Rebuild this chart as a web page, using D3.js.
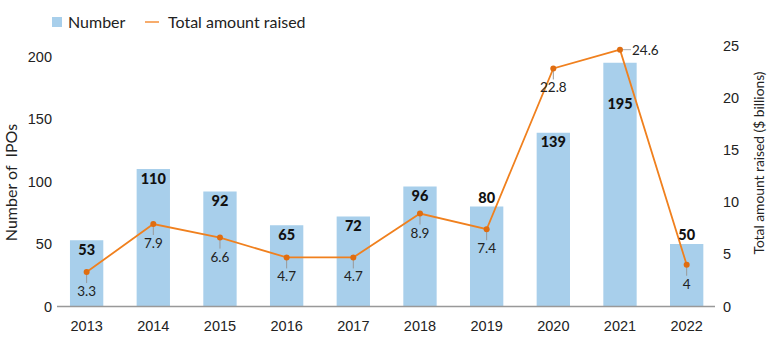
<!DOCTYPE html>
<html><head><meta charset="utf-8">
<script src="https://cdn.jsdelivr.net/npm/d3@7"></script>
<style>body{margin:0;background:#fff}svg{display:block;font-family:Lato,"Open Sans",sans-serif}</style>
</head><body><svg id="c" width="767" height="350"></svg>
<script>
const years = ["2013","2014","2015","2016","2017","2018","2019","2020","2021","2022"];
const numberIPOs = [53,110,92,65,72,96,80,139,195,50];
const amountRaised = [3.3,7.9,6.6,4.7,4.7,8.9,7.4,22.8,24.6,4];
const leftTicks = [0,50,100,150,200];
const rightTicks = [0,5,10,15,20,25];

const svg = d3.select("#c");
const x = d3.scaleBand().domain(years).range([53.3,720]).paddingInner(0.5).paddingOuter(0.25);
const yL = d3.scaleLinear().domain([0,200]).range([306.5,56.5]);
const yR = d3.scaleLinear().domain([0,25]).range([306.5,45.5]);
const txt = "#222";

// bars
svg.append("g").selectAll("rect").data(years).join("rect")
  .attr("x",d=>x(d)).attr("width",x.bandwidth())
  .attr("y",(d,i)=>yL(numberIPOs[i])).attr("height",(d,i)=>yL(0)-yL(numberIPOs[i]))
  .attr("fill","#a8cfeb");

// baseline axis
const xAxis = svg.append("g").attr("transform","translate(0,306.5)")
  .call(d3.axisBottom(x).tickSize(0).tickPadding(14));
xAxis.select(".domain").attr("stroke","#999").attr("stroke-width",1.5).attr("d","M57,0H715");
xAxis.selectAll("text").attr("font-size",14.5).attr("fill",txt);

// left axis
const la = svg.append("g").attr("transform","translate(52,0)")
  .call(d3.axisLeft(yL).tickValues(leftTicks).tickSize(0).tickPadding(0));
la.select(".domain").remove();
la.selectAll("text").attr("font-size",14.5).attr("fill",txt);

// right axis
const ra = svg.append("g").attr("transform","translate(723,0)")
  .call(d3.axisRight(yR).tickValues(rightTicks).tickSize(0).tickPadding(0));
ra.select(".domain").remove();
ra.selectAll("text").attr("font-size",14.5).attr("fill",txt);

// axis titles
svg.append("text").attr("transform","translate(17,182.5) rotate(-90)").attr("text-anchor","middle")
  .attr("font-size",16).attr("fill",txt).style("white-space","pre").text("Number of  IPOs");
svg.append("text").attr("transform","translate(764,163) rotate(-90)").attr("text-anchor","middle")
  .attr("font-size",13.8).attr("fill",txt).text("Total amount raised ($ billions)");

// line
const cx = d=>x(d)+x.bandwidth()/2;
const pts = amountRaised.map((v,i)=>[cx(years[i]), yR(v)]);
svg.append("path").datum(pts).attr("d",d3.line()).attr("fill","none")
  .attr("stroke","#f0801e").attr("stroke-width",1.8);

// does the line pass through the box [x0,x1]x[y0,y1]?
function lineHits(x0,x1,y0,y1){
  for (let k=0;k<pts.length-1;k++){
    const [ax,ay]=pts[k],[bx,by]=pts[k+1];
    const lo=Math.max(x0,Math.min(ax,bx)), hi=Math.min(x1,Math.max(ax,bx));
    if (lo>hi) continue;
    const ya=ay+(by-ay)*(lo-ax)/(bx-ax), yb=ay+(by-ay)*(hi-ax)/(bx-ax);
    if (Math.max(ya,yb)>=y0 && Math.min(ya,yb)<=y1) return true;
  }
  return false;
}

// bar labels
years.forEach((yr,i)=>{
  const top = yL(numberIPOs[i]);
  const px = cx(yr);
  const gap = yR(amountRaised[i]) - (top+9);
  const inside = !(gap >= 0 && gap < 15);
  let c = inside ? top+9.5 : top-9;
  if (inside) {
    const hw = String(numberIPOs[i]).length*4.5;
    while (lineHits(px-hw, px+hw, c-6-5, c+6+5) && c < 290) c += 1;
  }
  svg.append("text").attr("x",px).attr("y", c+5)
    .attr("text-anchor","middle").attr("font-size",14.5).attr("font-weight",900)
    .attr("fill","#111").text(numberIPOs[i]);
});

// line labels with leaders
const peak = d3.max(amountRaised);
amountRaised.forEach((v,i)=>{
  const [px,py] = pts[i];
  if (v === peak) {
    svg.append("line").attr("x1",px).attr("x2",px+11).attr("y1",py).attr("y2",py).attr("stroke","#aaa");
    svg.append("text").attr("x",px+12).attr("y",py+5).attr("font-size",13.5).attr("fill",txt).text(v);
  } else {
    svg.append("line").attr("x1",px).attr("x2",px).attr("y1",py).attr("y2",py+11).attr("stroke","#999");
    svg.append("text").attr("x",px).attr("y",py+24).attr("text-anchor","middle")
      .attr("font-size",13.5).attr("fill",txt).text(v);
  }
});
svg.append("g").selectAll("circle").data(pts).join("circle")
  .attr("cx",d=>d[0]).attr("cy",d=>d[1]).attr("r",3).attr("fill","#e06d10");

// legend
svg.append("rect").attr("x",52).attr("y",17).attr("width",10).attr("height",10).attr("fill","#a8cfeb");
svg.append("text").attr("x",68).attr("y",27.5).attr("font-size",16).attr("fill",txt).text("Number");
svg.append("line").attr("x1",145).attr("x2",159).attr("y1",22).attr("y2",22).attr("stroke","#f7a35c").attr("stroke-width",1.8);
svg.append("text").attr("x",168).attr("y",27.5).attr("font-size",16).attr("fill",txt).text("Total amount raised");
</script></body></html>
